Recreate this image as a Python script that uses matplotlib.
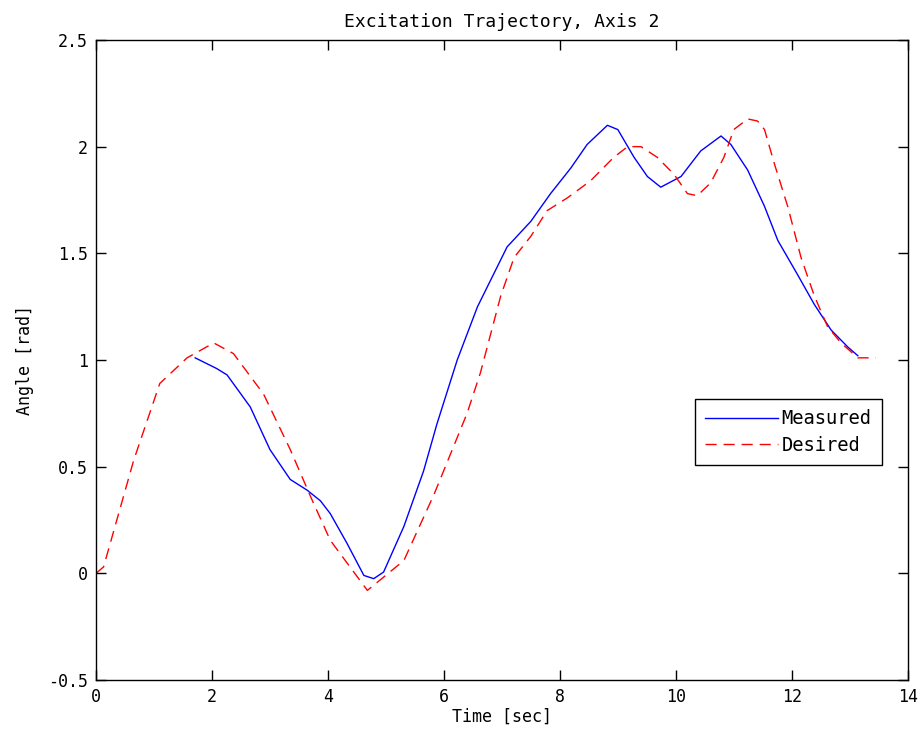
import matplotlib
import numpy as np

matplotlib.use('Agg')
import matplotlib.pyplot as plt  # noqa: E402

# values
t_des = [0.0, 0.13, 0.65, 1.1, 1.57, 2.03, 2.37, 2.89, 3.35, 3.70, 4.04,
         4.68, 5.31, 5.83, 6.40, 6.63, 6.98, 7.21, 7.50, 7.78, 8.13, 8.53,
         8.93, 9.17, 9.40, 9.68, 9.97, 10.2, 10.37, 10.6, 10.83, 11.0,
         11.24, 11.41, 11.53, 11.70, 11.93, 12.16, 12.39, 12.62, 12.85,
         13.14, 13.45]
y_des = [0.0, 0.03, 0.53, 0.89, 1.01, 1.08, 1.03, 0.84, 0.58, 0.36, 0.155,
         -0.08, 0.06, 0.37, 0.75, 0.94, 1.30, 1.48, 1.58, 1.70, 1.76, 1.84,
         1.95, 2.0, 2.0, 1.95, 1.87, 1.78, 1.77, 1.83, 1.95, 2.08,
         2.13, 2.12, 2.08, 1.92, 1.72, 1.48, 1.30, 1.155, 1.08,
         1.01, 1.01]

t_meas = [1.71, 2.08, 2.26, 2.66, 3.0, 3.35, 3.64, 3.87, 4.04, 4.33, 4.62,
          4.79, 4.96, 5.31, 5.65, 5.88, 6.23, 6.58, 7.09, 7.50, 7.84, 8.19,
          8.47, 8.82, 9.0, 9.28, 9.51, 9.74, 10.09, 10.43, 10.78, 10.95,
          11.24, 11.53, 11.76, 12.10, 12.39, 12.68, 12.97, 13.14]
y_meas = [1.01, 0.96, 0.93, 0.78, 0.58, 0.44, 0.39, 0.34, 0.28, 0.14, -0.01,
          -0.025, 0.006, 0.22, 0.48, 0.70, 1.0, 1.25, 1.53, 1.65, 1.78, 1.90,
          2.01, 2.10, 2.08, 1.95, 1.86, 1.81, 1.86, 1.98, 2.05, 2.01,
          1.89, 1.72, 1.56, 1.40, 1.26, 1.14, 1.06, 1.02]

plt.rcParams['font.family'] = 'DejaVu Sans Mono'
plt.rcParams['font.size'] = 12

fig = plt.figure(figsize=(9.18, 7.43), dpi=100)
ax = fig.add_axes([0.1046, 0.0848, 0.8842, 0.8614])

ax.plot(t_meas, y_meas, color='#0000ff', lw=1.0, label='Measured')
ax.plot(t_des, y_des, color='#ff0000', lw=1.0, dashes=(8, 5), label='Desired')

ax.set_xlim(0, 14)
ax.set_ylim(-0.5, 2.5)
ax.set_xticks(np.arange(0, 15, 2))
ax.set_yticks(np.arange(-0.5, 2.6, 0.5))
ax.set_yticklabels(['-0.5', '0', '0.5', '1', '1.5', '2', '2.5'])
ax.tick_params(direction='in', top=True, right=True, length=7, width=1,
               pad=6)
for s in ax.spines.values():
    s.set_linewidth(1.0)

ax.set_xlabel('Time [sec]', labelpad=1)
ax.set_ylabel('Angle [rad]', labelpad=10)
ax.set_title('Excitation Trajectory, Axis 2', fontsize=13, pad=9)

leg = ax.legend(loc='upper left', bbox_to_anchor=(0.738, 0.439),
                fancybox=False, edgecolor='black', framealpha=1,
                fontsize=13.5, handlelength=3.9, handletextpad=0.15,
                borderpad=0.55, labelspacing=0.4, borderaxespad=0)
leg.get_frame().set_linewidth(1.0)

fig.savefig('out.png', dpi=100)
